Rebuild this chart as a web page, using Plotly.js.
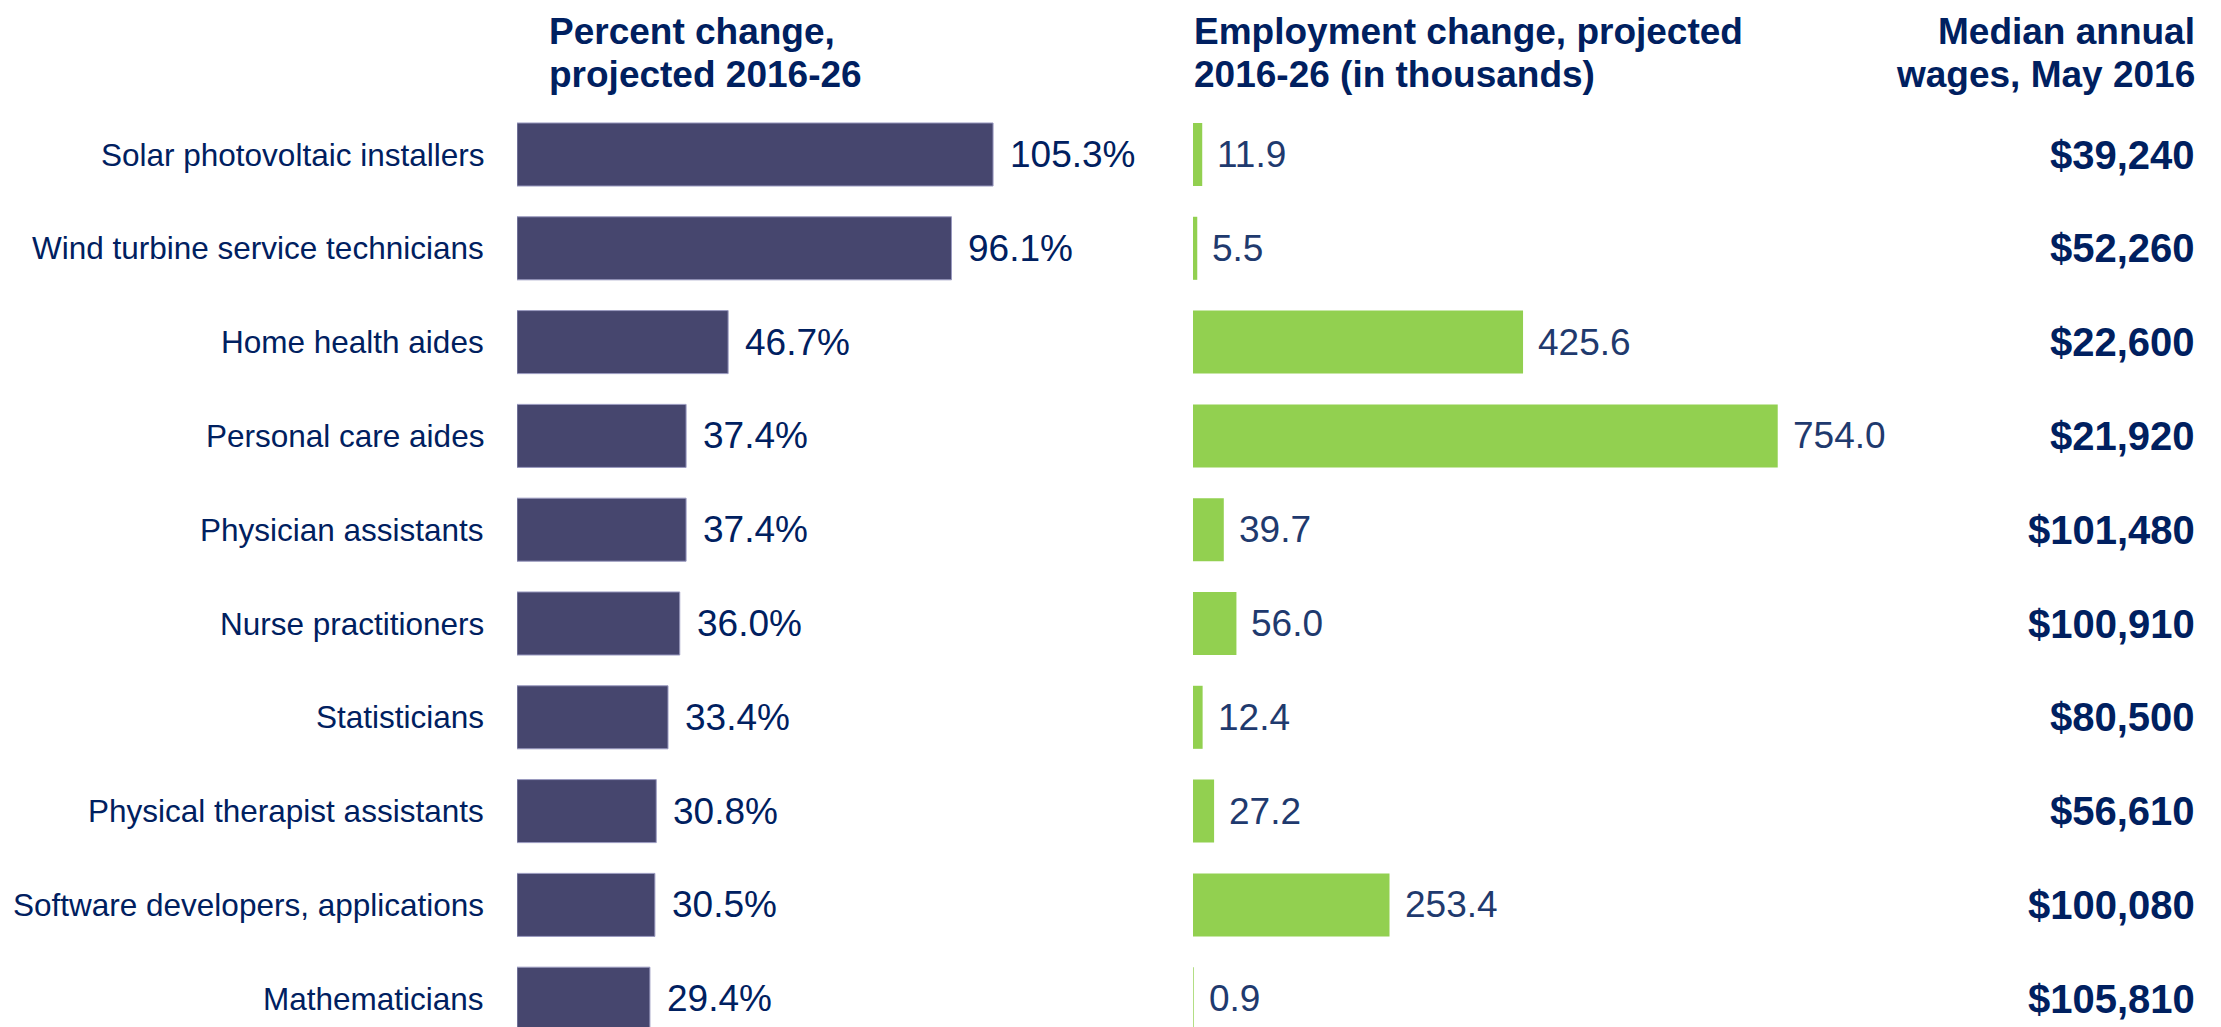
<!DOCTYPE html>
<html>
<head>
<meta charset="utf-8">
<script src="https://cdn.plot.ly/plotly-3.0.1.min.js"></script>
<style>
html,body{margin:0;padding:0;background:#fff;}
#chart{width:2221px;height:1027px;}
</style>
</head>
<body>
<div id="chart"></div>
<script>
const occupations = [
  "Solar photovoltaic installers",
  "Wind turbine service technicians",
  "Home health aides",
  "Personal care aides",
  "Physician assistants",
  "Nurse practitioners",
  "Statisticians",
  "Physical therapist assistants",
  "Software developers, applications",
  "Mathematicians"
];
const percentChange = [105.3, 96.1, 46.7, 37.4, 37.4, 36.0, 33.4, 30.8, 30.5, 29.4];
const employmentChange = [11.9, 5.5, 425.6, 754.0, 39.7, 56.0, 12.4, 27.2, 253.4, 0.9];
const medianWages = ["$39,240", "$52,260", "$22,600", "$21,920", "$101,480", "$100,910", "$80,500", "$56,610", "$100,080", "$105,810"];
const headerPercent = ["Percent change,", "projected 2016-26"];
const headerEmployment = ["Employment change, projected", "2016-26 (in thousands)"];
const headerWages = ["Median annual", "wages, May 2016"];

const W = 2221, H = 1027;
const navy = "#002060";
const midNavy = "#1F3A6E";
const baseFont = "Liberation Sans, Arial, sans-serif";

const traces = [
  {
    type: "bar", orientation: "h",
    x: percentChange, y: occupations,
    xaxis: "x", yaxis: "y",
    width: 0.672,
    marker: {color: "#46466E", line: {color: "#9a9ac0", width: 1}},
    hoverinfo: "skip"
  },
  {
    type: "bar", orientation: "h",
    x: employmentChange, y: occupations,
    xaxis: "x2", yaxis: "y",
    width: 0.672,
    marker: {color: "#92D050"},
    hoverinfo: "skip"
  }
];

const annotations = [];
// row labels
occupations.forEach((o) => {
  annotations.push({
    text: o, xref: "paper", yref: "y", x: 486 / W, y: o,
    xanchor: "right", yanchor: "middle", showarrow: false,
    font: {family: baseFont, size: 31.5, color: navy}
  });
});
// percent value labels
percentChange.forEach((v, i) => {
  annotations.push({
    text: v.toFixed(1) + "%", xref: "x", yref: "y", x: v, y: occupations[i],
    xanchor: "left", yanchor: "middle", xshift: 15, showarrow: false,
    font: {family: baseFont, size: 37, color: navy}
  });
});
// employment value labels
employmentChange.forEach((v, i) => {
  annotations.push({
    text: v.toFixed(1), xref: "x2", yref: "y", x: v, y: occupations[i],
    xanchor: "left", yanchor: "middle", xshift: 13, showarrow: false,
    font: {family: baseFont, size: 37, color: midNavy}
  });
});
// wages
medianWages.forEach((w, i) => {
  annotations.push({
    text: "<b>" + w + "</b>", xref: "paper", yref: "y", x: 2197 / W, y: occupations[i],
    xanchor: "right", yanchor: "middle", showarrow: false,
    font: {family: baseFont, size: 40, color: navy}
  });
});
// headers
const headerY = [32, 74];
function addHeader(lines, xpx, anchor) {
  lines.forEach((t, k) => {
    annotations.push({
      text: "<b>" + t + "</b>", xref: "paper", yref: "paper",
      x: xpx / W, y: 1 - headerY[k] / H,
      xanchor: anchor, yanchor: "middle", showarrow: false,
      font: {family: baseFont, size: 37, color: navy}
    });
  });
}
addHeader(headerPercent, 547, "left");
addHeader(headerEmployment, 1192, "left");
addHeader(headerWages, 2197, "right");

const pxPerRow = 93.8;
const topVal = -154.5 / pxPerRow;
const botVal = topVal + H / pxPerRow;

const layout = {
  width: W, height: H,
  margin: {l: 0, r: 0, t: 0, b: 0, pad: 0},
  paper_bgcolor: "#ffffff", plot_bgcolor: "rgba(0,0,0,0)",
  showlegend: false,
  xaxis: {domain: [517 / W, 1150 / W], range: [0, 633 / 4.521], visible: false, fixedrange: true},
  xaxis2: {domain: [1193 / W, 1900 / W], range: [0, 707 / 0.7755], visible: false, fixedrange: true},
  yaxis: {type: "category", range: [botVal, topVal], visible: false, fixedrange: true},
  annotations: annotations
};

Plotly.newPlot("chart", traces, layout, {displayModeBar: false, staticPlot: true});
</script>
</body>
</html>
